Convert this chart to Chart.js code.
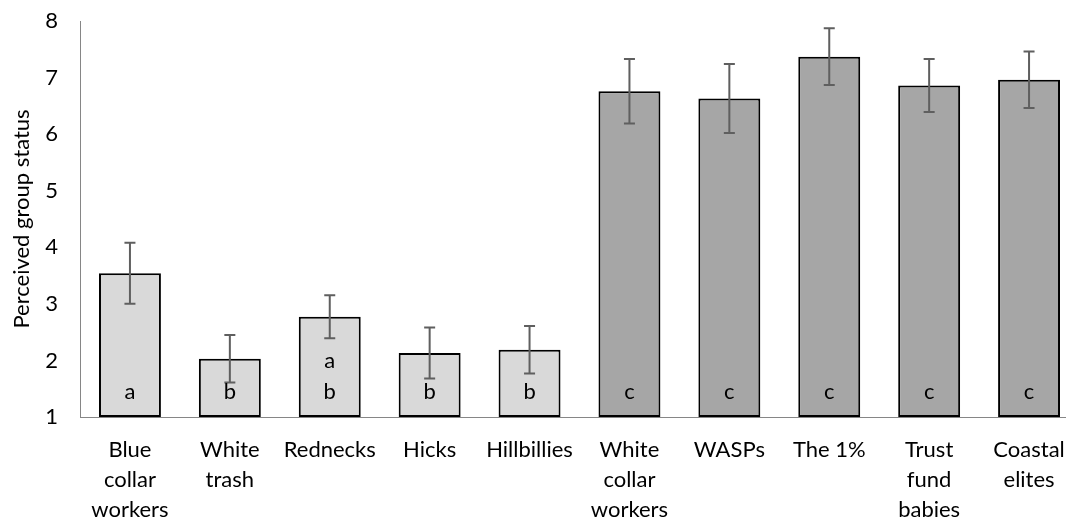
<!DOCTYPE html>
<html>
<head>
<meta charset="utf-8">
<script src="https://cdn.jsdelivr.net/npm/chart.js@4/dist/chart.umd.min.js"></script>
<style>
  html, body { margin: 0; padding: 0; background: #fff; overflow: hidden; }
  .wrap { width: 1066px; height: 519px; overflow: hidden; }
</style>
</head>
<body>
<!-- canvas is a little wider than the view: the reference is cropped on the right -->
<div class="wrap"><canvas id="barChart" width="1079" height="519"></canvas></div>
<script>
// --- data ---
const categories = [
  ["Blue", "collar", "workers"], ["White", "trash"], ["Rednecks"], ["Hicks"], ["Hillbillies"],
  ["White", "collar", "workers"], ["WASPs"], ["The 1%"], ["Trust", "fund", "babies"], ["Coastal", "elites"]
];
const means = [3.54, 2.03, 2.77, 2.13, 2.19, 6.76, 6.63, 7.37, 6.86, 6.96];
const errors = [0.54, 0.42, 0.38, 0.45, 0.42, 0.57, 0.61, 0.50, 0.47, 0.50];
const letters = [["a"], ["b"], ["a", "b"], ["b"], ["b"], ["c"], ["c"], ["c"], ["c"], ["c"]];
const groups = ["low", "low", "low", "low", "low", "high", "high", "high", "high", "high"];
const yTicks = [1, 2, 3, 4, 5, 6, 7, 8];

const FONT = "Lato, 'Open Sans', sans-serif";

// --- error bars + significance letters, drawn after the bars ---
const extrasPlugin = {
  id: "extras",
  afterDatasetsDraw(chart) {
    const { ctx, scales: { x, y } } = chart;
    ctx.save();
    // error bars
    ctx.strokeStyle = "#5f5f5f";
    ctx.lineWidth = 2;
    means.forEach((m, i) => {
      const cx = x.getPixelForValue(i);
      const top = y.getPixelForValue(m + errors[i]);
      const bot = y.getPixelForValue(m - errors[i]);
      ctx.beginPath();
      ctx.moveTo(cx, top); ctx.lineTo(cx, bot);
      ctx.moveTo(cx - 5.5, top); ctx.lineTo(cx + 5.5, top);
      ctx.moveTo(cx - 5.5, bot); ctx.lineTo(cx + 5.5, bot);
      ctx.stroke();
    });
    // letters inside bars, stacked upward from the base
    ctx.fillStyle = "#000";
    ctx.font = "22px " + FONT;
    ctx.textAlign = "center";
    ctx.textBaseline = "middle";
    letters.forEach((ls, i) => {
      const cx = x.getPixelForValue(i);
      const base = y.getPixelForValue(1);
      ls.slice().reverse().forEach((l, k) => {
        ctx.fillText(l, cx, base - 25 - k * 31);
      });
    });
    ctx.restore();
  }
};

new Chart(document.getElementById("barChart").getContext("2d"), {
  type: "bar",
  data: {
    labels: categories,
    datasets: [{
      data: means,
      base: 1,
      backgroundColor: groups.map(g => g === "low" ? "#d9d9d9" : "#a6a6a6"),
      borderColor: "#000",
      borderWidth: 2,
      borderSkipped: false,
      categoryPercentage: 1,
      barPercentage: 0.62
    }]
  },
  options: {
    responsive: false,
    animation: false,
    layout: { padding: { top: 21, right: 0, left: 0, bottom: 0 } },
    plugins: { legend: { display: false }, tooltip: { enabled: false } },
    scales: {
      x: {
        grid: { display: false, drawTicks: false },
        border: { color: "#868686", width: 1 },
        ticks: {
          color: "#000",
          font: { family: FONT, size: 22, lineHeight: 1.36 },
          maxRotation: 0, minRotation: 0, autoSkip: false, padding: 18
        },
        afterFit(s) { s.height = 102; s.paddingLeft = 0; s.paddingRight = 0; }
      },
      y: {
        min: 1, max: 8,
        afterBuildTicks(s) { s.ticks = yTicks.map(v => ({ value: v })); },
        grid: { display: false, drawTicks: false },
        border: { color: "#868686", width: 1 },
        ticks: { color: "#000", font: { family: FONT, size: 22 }, padding: 22 },
        title: {
          display: true, text: "Perceived group status", color: "#000",
          font: { family: FONT, size: 22 }, padding: { top: 9, bottom: 0 }
        },
        afterFit(s) { s.width = 80; s.paddingTop = 0; s.paddingBottom = 0; }
      }
    }
  },
  plugins: [extrasPlugin]
});
</script>
</body>
</html>
